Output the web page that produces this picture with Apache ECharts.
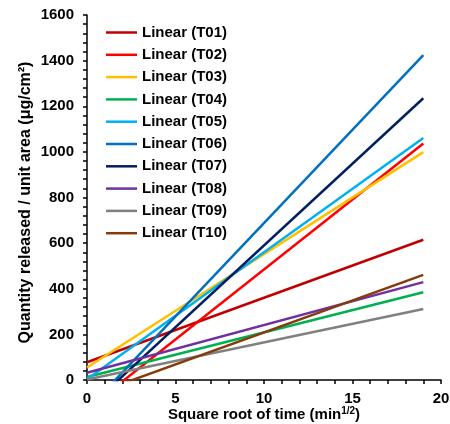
<!DOCTYPE html>
<html>
<head>
<meta charset="utf-8">
<script src="https://cdn.jsdelivr.net/npm/echarts@6/dist/echarts.min.js"></script>
<style>
html,body{margin:0;padding:0;background:#fff;}
#chart{width:450px;height:424px;}
</style>
</head>
<body>
<div id="chart"></div>
<script>
// Data (trendlines, endpoints at x = 0 and x = 19)
const seriesNames = ["Linear (T01)","Linear (T02)","Linear (T03)","Linear (T04)","Linear (T05)","Linear (T06)","Linear (T07)","Linear (T08)","Linear (T09)","Linear (T10)"];
const xEnds = [0, 19];
const startValues = [78, -129, 55, 13, 3, -130, -127, 32, 2, -72];
const endValues   = [615, 1037, 999, 385, 1061, 1424, 1235, 429, 311, 461];
const colors = ["#C00000","#FF0000","#FFC000","#00B050","#00B0F0","#0070C0","#002060","#7030A0","#808080","#843C0C"];
const xTicks = [0, 5, 10, 15, 20];
const yTicks = [0, 200, 400, 600, 800, 1000, 1200, 1400, 1600];

const FONT = "'Liberation Sans', Arial, sans-serif";

const series = seriesNames.map((name, i) => ({
  name: name,
  type: 'line',
  data: [[xEnds[0], startValues[i]], [xEnds[1], endValues[i]]],
  symbol: 'none',
  clip: true,
  lineStyle: { color: colors[i], width: 2.5 },
  itemStyle: { color: colors[i] },
  emphasis: { disabled: true },
  animation: false
}));

const chart = echarts.init(document.getElementById('chart'), null, { renderer: 'canvas' });
chart.setOption({
  animation: false,
  backgroundColor: '#fff',
  grid: { left: 87, right: 9, top: 15, bottom: 44, containLabel: false, outerBoundsMode: 'none' },
  legend: {
    orient: 'vertical',
    left: 106,
    top: 25,
    padding: 0,
    icon: 'rect',
    itemWidth: 31,
    itemHeight: 2.5,
    itemGap: 7.3,
    textStyle: { fontFamily: FONT, fontSize: 15, fontWeight: 'bold', color: '#000', lineHeight: 15 },
    data: seriesNames
  },
  xAxis: {
    type: 'value',
    min: xTicks[0],
    max: xTicks[xTicks.length - 1],
    interval: xTicks[1] - xTicks[0],
    name: '{a|Square root of time (min}{s|1/2}{a|)}',
    nameLocation: 'middle',
    nameGap: 26,
    nameMoveOverlap: false,
    nameTextStyle: {
      rich: {
        a: { fontFamily: FONT, fontSize: 15, fontWeight: 'bold', color: '#000', lineHeight: 18 },
        s: { fontFamily: FONT, fontSize: 10, fontWeight: 'bold', color: '#000', lineHeight: 18, verticalAlign: 'top', padding: [0, 0, 6, 0] }
      }
    },
    axisLine: { show: true, onZero: false, lineStyle: { color: '#000', width: 1.5 } },
    axisTick: { show: true, inside: false, length: 4, lineStyle: { color: '#000', width: 1.5 } },
    minorTick: { show: true, splitNumber: 5, length: 4, lineStyle: { color: '#000', width: 1.5 } },
    splitLine: { show: false },
    axisLabel: { fontFamily: FONT, fontSize: 15, fontWeight: 'bold', color: '#000', margin: 11 }
  },
  yAxis: {
    type: 'value',
    min: yTicks[0],
    max: yTicks[yTicks.length - 1],
    interval: yTicks[1] - yTicks[0],
    name: 'Quantity released / unit area (μg/cm²)',
    nameLocation: 'middle',
    nameGap: 53,
    nameMoveOverlap: false,
    nameTextStyle: { fontFamily: FONT, fontSize: 16, fontWeight: 'bold', color: '#000', padding: [0, 10, 0, 0] },
    axisLine: { show: true, onZero: false, lineStyle: { color: '#000', width: 1.5 } },
    axisTick: { show: true, inside: false, length: 4, lineStyle: { color: '#000', width: 1.5 } },
    minorTick: { show: true, splitNumber: 5, length: 4, lineStyle: { color: '#000', width: 1.5 } },
    splitLine: { show: false },
    axisLabel: { fontFamily: FONT, fontSize: 15, fontWeight: 'bold', color: '#000', margin: 13, formatter: function (v) { return String(v); } }
  },
  series: series
});
</script>
</body>
</html>
